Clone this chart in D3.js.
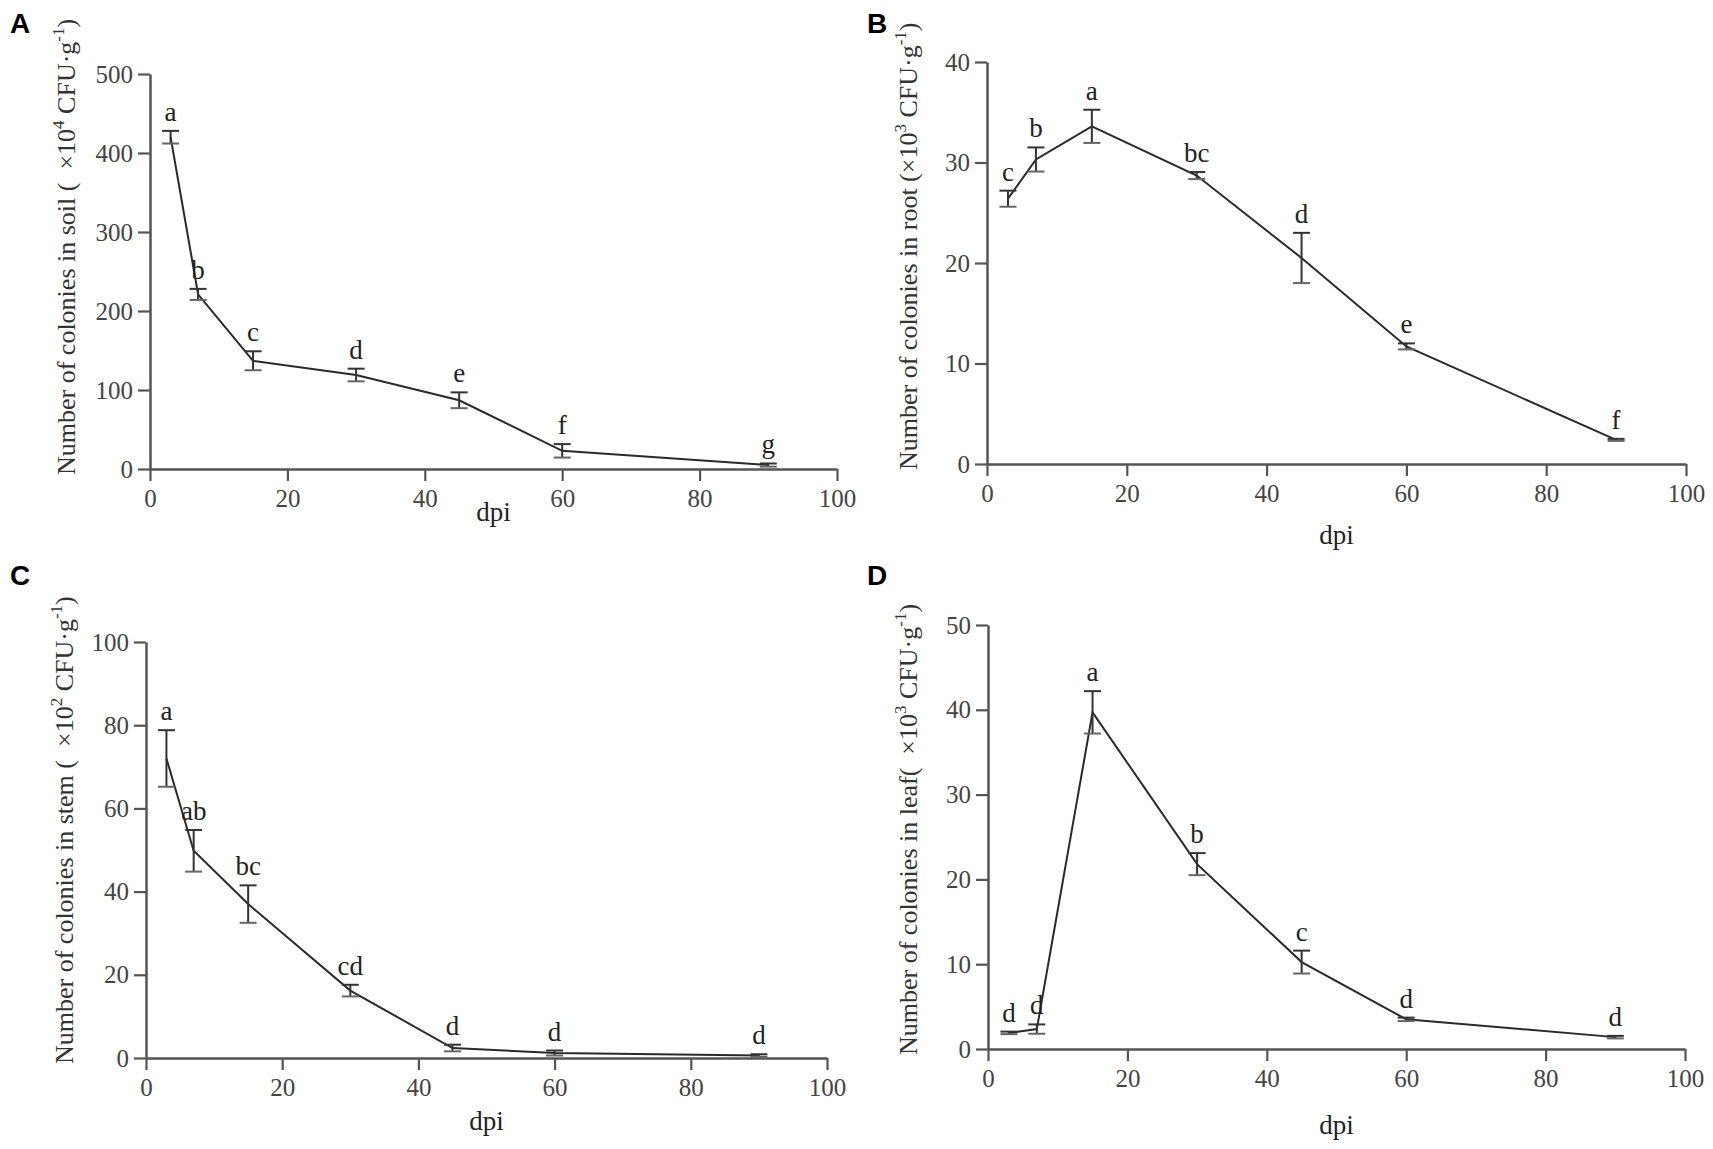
<!DOCTYPE html>
<meta charset="utf-8">
<script src="https://d3js.org/d3.v7.min.js"></script>
<style>
  body { margin: 0; background: #fff; }
  text { font-family: "Liberation Serif", "Times New Roman", serif; }
</style>
<body>
<div id="canvas"></div>
<script>
// sampling days (dpi) shared by all four panels
var days = [3, 7, 15, 30, 45, 60, 90];
var dpiTicks = [0, 20, 40, 60, 80, 100];

// A - soil (x10^4 CFU/g)
var soilMean = [420, 221, 137, 119, 87, 23, 5];
var soilSd = [8, 7, 12, 8, 10, 8.5, 2];
var soilLetters = ["a", "b", "c", "d", "e", "f", "g"];
var soilTicks = [0, 100, 200, 300, 400, 500];

// B - root (x10^3 CFU/g)
var rootMean = [26.4, 30.3, 33.6, 28.7, 20.5, 11.7, 2.4];
var rootSd = [0.8, 1.2, 1.65, 0.35, 2.5, 0.3, 0.1];
var rootLetters = ["c", "b", "a", "bc", "d", "e", "f"];
var rootTicks = [0, 10, 20, 30, 40];

// C - stem (x10^2 CFU/g)
var stemMean = [72, 49.8, 37, 16.2, 2.4, 1.2, 0.6];
var stemSd = [6.8, 5, 4.5, 1.4, 0.8, 0.6, 0.3];
var stemLetters = ["a", "ab", "bc", "cd", "d", "d", "d"];
var stemTicks = [0, 20, 40, 60, 80, 100];

// D - leaf (x10^3 CFU/g)
var leafMean = [1.9, 2.35, 39.7, 21.8, 10.25, 3.5, 1.4];
var leafSd = [0.15, 0.55, 2.5, 1.3, 1.35, 0.2, 0.15];
var leafLetters = ["d", "d", "a", "b", "c", "d", "d"];
var leafTicks = [0, 10, 20, 30, 40, 50];

var W = 1713, H = 1149;

var svg = d3.select("#canvas")
  .append("svg")
  .attr("width", W)
  .attr("height", H)
  .style("background", "#fff");

// each panel: data refs + where it sits on the page
var panels = [
  { tag: "A", mean: soilMean, sd: soilSd, letters: soilLetters, yTicks: soilTicks,
    x0: 150, x1: 837, yTop: 74, yBot: 469, tagX: 10, tagY: 33, dpiY: 512, titleX: 66,
    title: [["Number of colonies in soil (  ×10"], ["4", 1], [" CFU·g"], ["-1", 1], [")"]] },
  { tag: "B", mean: rootMean, sd: rootSd, letters: rootLetters, yTicks: rootTicks,
    x0: 987, x1: 1686, yTop: 62, yBot: 464, tagX: 867, tagY: 33, dpiY: 535, titleX: 908,
    title: [["Number of colonies in root (×10"], ["3", 1], [" CFU·g"], ["-1", 1], [")"]] },
  { tag: "C", mean: stemMean, sd: stemSd, letters: stemLetters, yTicks: stemTicks,
    x0: 146, x1: 827, yTop: 642, yBot: 1058, tagX: 10, tagY: 585, dpiY: 1121, titleX: 64,
    title: [["Number of colonies in stem (  ×10"], ["2", 1], [" CFU·g"], ["-1", 1], [")"]] },
  { tag: "D", mean: leafMean, sd: leafSd, letters: leafLetters, yTicks: leafTicks,
    x0: 988, x1: 1685, yTop: 625, yBot: 1049, tagX: 867, tagY: 585, dpiY: 1125, titleX: 908,
    title: [["Number of colonies in leaf(  ×10"], ["3", 1], [" CFU·g"], ["-1", 1], [")"]] }
];

var axisColor = "#555";
var lineColor = "#2a2a2a";

panels.forEach(function(p) {
  var yMax = p.yTicks[p.yTicks.length - 1];
  var x = d3.scaleLinear().domain([0, 100]).range([p.x0, p.x1]);
  var y = d3.scaleLinear().domain([0, yMax]).range([p.yBot, p.yTop]);

  var pts = days.map(function(d, i) {
    return { day: d, mean: p.mean[i], sd: p.sd[i], letter: p.letters[i] };
  });

  var g = svg.append("g");

  // axes
  var gx = g.append("g")
    .attr("transform", "translate(0," + p.yBot + ")")
    .call(d3.axisBottom(x).tickValues(dpiTicks).tickSize(12).tickSizeOuter(0).tickPadding(8));
  var gy = g.append("g")
    .attr("transform", "translate(" + p.x0 + ",0)")
    .call(d3.axisLeft(y).tickValues(p.yTicks).tickSize(12).tickSizeOuter(0).tickPadding(5));

  [gx, gy].forEach(function(a) {
    a.select(".domain").attr("stroke", axisColor).attr("stroke-width", 2.5);
    a.selectAll(".tick line").attr("stroke", axisColor).attr("stroke-width", 2.2);
    a.selectAll(".tick text")
      .attr("fill", "#444")
      .style("font-size", "25px")
      .style("font-family", '"Liberation Serif", serif');
  });

  // connecting line
  var line = d3.line()
    .x(function(d) { return x(d.day); })
    .y(function(d) { return y(d.mean); });
  g.append("path")
    .datum(pts)
    .attr("d", line)
    .attr("fill", "none")
    .attr("stroke", lineColor)
    .attr("stroke-width", 2);

  // error bars
  var cap = 8.5;
  var eb = g.selectAll(".eb").data(pts).enter().append("g");
  eb.append("line")
    .attr("x1", function(d) { return x(d.day); })
    .attr("x2", function(d) { return x(d.day); })
    .attr("y1", function(d) { return y(d.mean - d.sd); })
    .attr("y2", function(d) { return y(d.mean + d.sd); })
    .attr("stroke", "#333").attr("stroke-width", 2);
  eb.append("line")
    .attr("x1", function(d) { return x(d.day) - cap; })
    .attr("x2", function(d) { return x(d.day) + cap; })
    .attr("y1", function(d) { return y(d.mean + d.sd); })
    .attr("y2", function(d) { return y(d.mean + d.sd); })
    .attr("stroke", "#333").attr("stroke-width", 2);
  eb.append("line")
    .attr("x1", function(d) { return x(d.day) - cap; })
    .attr("x2", function(d) { return x(d.day) + cap; })
    .attr("y1", function(d) { return y(d.mean - d.sd); })
    .attr("y2", function(d) { return y(d.mean - d.sd); })
    .attr("stroke", "#666").attr("stroke-width", 2);

  // significance letters
  g.selectAll(".sig").data(pts).enter().append("text")
    .attr("x", function(d) { return x(d.day); })
    .attr("y", function(d) { return y(d.mean + d.sd) - 10; })
    .attr("text-anchor", "middle")
    .attr("fill", "#222")
    .style("font-size", "27px")
    .text(function(d) { return d.letter; });

  // x title
  g.append("text")
    .attr("x", (p.x0 + p.x1) / 2)
    .attr("y", p.dpiY)
    .attr("dy", "0.35em")
    .attr("text-anchor", "middle")
    .attr("fill", "#222")
    .style("font-size", "27px")
    .text("dpi");

  // y title (rotated, starts near the x axis)
  var t = g.append("text")
    .attr("transform", "translate(" + (p.titleX + 9) + "," + (p.yBot + 6) + ") rotate(-90)")
    .attr("text-anchor", "start")
    .attr("fill", "#333")
    .style("font-size", "26px")
    .style("white-space", "pre");
  var raised = false;
  p.title.forEach(function(part) {
    var sup = part[1] === 1;
    var ts = t.append("tspan").text(part[0]);
    if (sup && !raised) { ts.attr("dy", -11).style("font-size", "17px"); raised = true; }
    else if (sup) { ts.style("font-size", "17px"); }
    else if (raised) { ts.attr("dy", 11); raised = false; }
  });

  // panel tag
  svg.append("text")
    .attr("x", p.tagX)
    .attr("y", p.tagY)
    .attr("fill", "#000")
    .style("font-family", '"Liberation Sans", Arial, sans-serif')
    .style("font-weight", "bold")
    .style("font-size", "28px")
    .text(p.tag);
});
</script>
</body>
